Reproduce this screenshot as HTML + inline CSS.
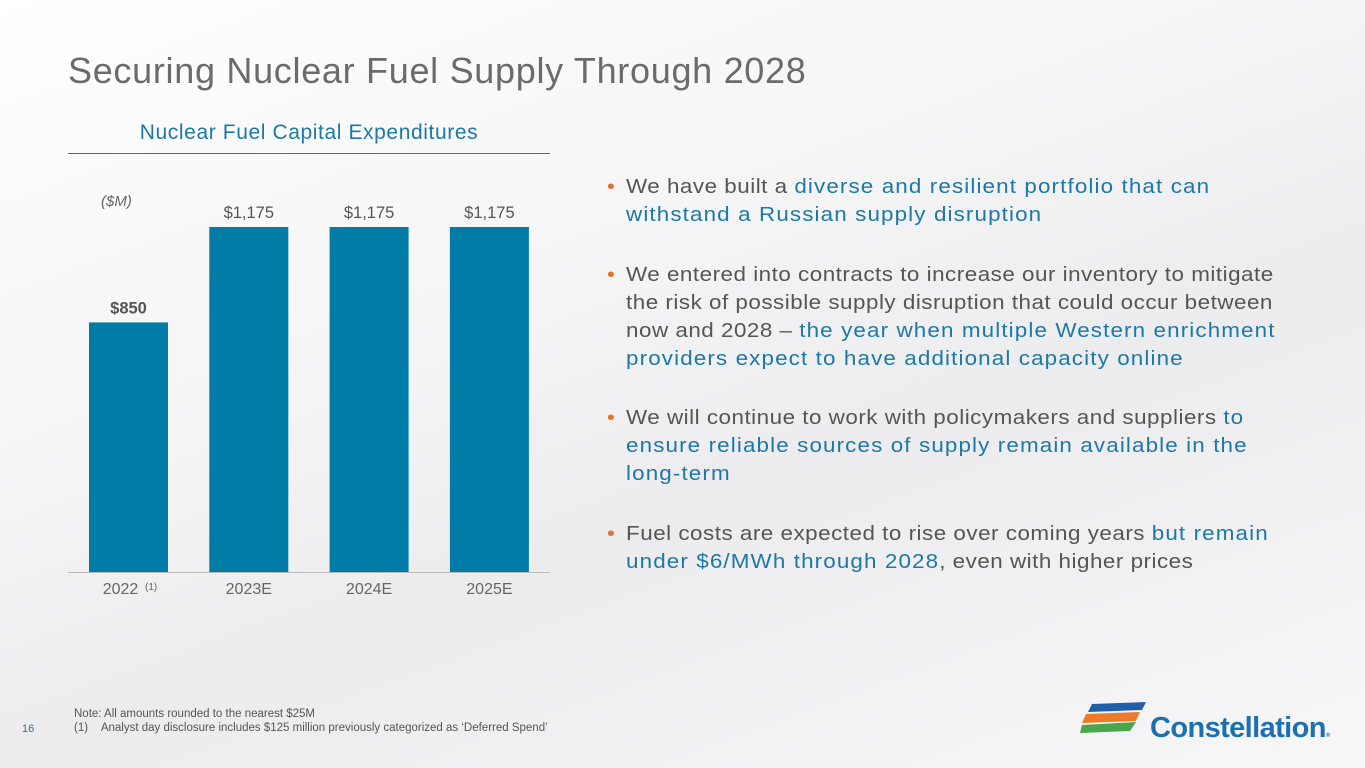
<!DOCTYPE html>
<html><head><meta charset="utf-8"><style>
body{margin:0;width:1365px;height:768px;overflow:hidden;font-family:"Liberation Sans",sans-serif;background:linear-gradient(160deg,#ffffff 0%,#f4f4f5 40%,#ececee 60%,#f7f7f8 100%);position:relative}
.a{position:absolute}
.title{left:68px;top:50px;font-size:36px;color:#6a6b6d;letter-spacing:0.7px}
.sub{left:68px;top:121px;width:482px;text-align:center;font-size:21px;color:#1c78a6;padding-bottom:8px;border-bottom:1px solid #666;letter-spacing:0.6px}
.bul{left:607px;font-size:20px;line-height:28px;color:#555;padding-left:17px;white-space:nowrap;letter-spacing:0.45px;transform:scaleX(1.12);transform-origin:0 0}
.bul:before{content:"•";color:#e5702a;position:absolute;left:0;top:0}
.b{color:#1c78a6;letter-spacing:1px}
.note{left:74px;font-size:11.5px;color:#555}
</style></head><body>
<div class="a title">Securing Nuclear Fuel Supply Through 2028</div>
<div class="a sub">Nuclear Fuel Capital Expenditures</div>
<svg class="a" style="left:0;top:0" width="600" height="620">
<text x="101" y="206" font-size="15" font-style="italic" fill="#666">($M)</text>
<line x1="68" y1="572.5" x2="550" y2="572.5" stroke="#bbb"/>
<g id="g"></g>
</svg>
<div class="a bul" style="top:173px">We have built a <span class="b">diverse and resilient portfolio that can<br>withstand a Russian supply disruption</span></div>
<div class="a bul" style="top:261px">We entered into contracts to increase our inventory to mitigate<br>the risk of possible supply disruption that could occur between<br>now and 2028 – <span class="b">the year when multiple Western enrichment<br>providers expect to have additional capacity online</span></div>
<div class="a bul" style="top:404px">We will continue to work with policymakers and suppliers <span class="b">to<br>ensure reliable sources of supply remain available in the<br>long-term</span></div>
<div class="a bul" style="top:520px">Fuel costs are expected to rise over coming years <span class="b">but remain<br>under $6/MWh through 2028</span>, even with higher prices</div>
<div class="a note" style="top:708px">Note: All amounts rounded to the nearest $25M</div>
<div class="a note" style="top:722px">(1)&nbsp;&nbsp;&nbsp;&nbsp;Analyst day disclosure includes $125 million previously categorized as ‘Deferred Spend’</div>
<div class="a" style="left:22px;top:723px;font-size:11px;color:#1c78a6">16</div>
<svg class="a" style="left:1080px;top:700px" width="70" height="36">
<path d="M12 4 L66 2 L62 10 L8 12Z" fill="#1f5fa8"/><path d="M6 14 L60 12 L56 21 L2 23Z" fill="#ee7a2a"/><path d="M2 25 L56 22 L50 31 L0 33Z" fill="#4aa64a"/>
</svg>
<div class="a" style="left:1150px;top:712px;font-size:29px;font-weight:bold;color:#1d6fb0;letter-spacing:-0.6px">Constellation<span style="font-size:6px">®</span></div>
<script>
const categories=["2022","2023E","2024E","2025E"];
const values=[850,1175,1175,1175];
const valueLabels=["$850","$1,175","$1,175","$1,175"];
const g=document.getElementById('g');const NS="http://www.w3.org/2000/svg";
const y=v=>572-v*345/1175, x=i=>89+i*120.3;
categories.forEach((c,i)=>{
 const r=document.createElementNS(NS,'rect');
 r.setAttribute('x',x(i));r.setAttribute('y',y(values[i]));r.setAttribute('width',79);r.setAttribute('height',572-y(values[i]));r.setAttribute('fill','#007ca6');
 
 
 g.appendChild(r);
 const t=document.createElementNS(NS,'text');
 t.setAttribute('x',x(i)+39.5);t.setAttribute('y',y(values[i])-9);t.setAttribute('text-anchor','middle');t.setAttribute('font-size','16.5');t.setAttribute('fill','#555');if(i==0)t.setAttribute('font-weight','bold');
 t.textContent=valueLabels[i];
 
 
 g.appendChild(t);
 const l=document.createElementNS(NS,'text');
 l.setAttribute('x',x(i)+39.5-(i==0?8:0));l.setAttribute('y',594);l.setAttribute('text-anchor','middle');l.setAttribute('font-size','16');l.setAttribute('fill','#666');
 l.textContent=c;
 
 
 g.appendChild(l);
 if(i==0){const s=document.createElementNS(NS,'text');s.setAttribute('x',x(i)+56);s.setAttribute('y',590);s.setAttribute('font-size','10');s.setAttribute('fill','#666');s.textContent='(1)';
 
 
 g.appendChild(s);}
});
</script>
</body></html>
